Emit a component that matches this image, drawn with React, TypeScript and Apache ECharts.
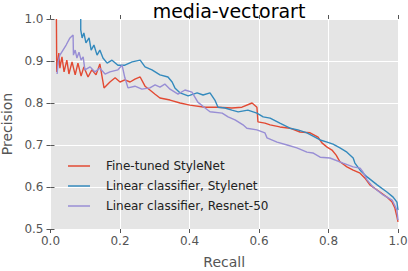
import React, { useEffect, useRef } from "react";
import * as echarts from "echarts";

const title = "media-vectorart";
const seriesNames = ["Fine-tuned StyleNet", "Linear classifier, Stylenet", "Linear classifier, Resnet-50"];
const seriesColors = ["#E24A33", "#348ABD", "#988ED5"];
const xTicks = [0, 0.2, 0.4, 0.6, 0.8, 1.0];
const yTicks = [0.5, 0.6, 0.7, 0.8, 0.9, 1.0];

const redRecall = [0.017, 0.018, 0.024, 0.027, 0.033, 0.039, 0.047, 0.053, 0.062, 0.071, 0.079, 0.088, 0.096, 0.108, 0.119, 0.131, 0.142, 0.154, 0.171, 0.186, 0.2, 0.214, 0.229, 0.243, 0.258, 0.272, 0.286, 0.301, 0.315, 0.344, 0.373, 0.401, 0.445, 0.482, 0.522, 0.551, 0.58, 0.594, 0.597, 0.617, 0.632, 0.66, 0.689, 0.718, 0.747, 0.77, 0.781, 0.796, 0.81, 0.822, 0.833, 0.853, 0.871, 0.891, 0.905, 0.919, 0.948, 0.968, 0.983, 0.991, 0.997, 1.0];
const redPrecision = [1.0, 0.874, 0.919, 0.883, 0.91, 0.874, 0.902, 0.869, 0.898, 0.867, 0.895, 0.864, 0.886, 0.862, 0.879, 0.867, 0.893, 0.836, 0.85, 0.86, 0.85, 0.855, 0.85, 0.857, 0.862, 0.84, 0.831, 0.821, 0.812, 0.807, 0.8, 0.795, 0.79, 0.79, 0.788, 0.79, 0.8, 0.79, 0.755, 0.752, 0.748, 0.743, 0.74, 0.731, 0.729, 0.719, 0.705, 0.695, 0.688, 0.676, 0.66, 0.648, 0.64, 0.633, 0.621, 0.605, 0.588, 0.576, 0.564, 0.55, 0.529, 0.517];

const blueRecall = [0.087, 0.087, 0.091, 0.096, 0.102, 0.111, 0.117, 0.125, 0.134, 0.142, 0.151, 0.163, 0.177, 0.194, 0.214, 0.235, 0.258, 0.272, 0.292, 0.315, 0.338, 0.35, 0.358, 0.373, 0.396, 0.422, 0.439, 0.459, 0.473, 0.482, 0.502, 0.522, 0.54, 0.568, 0.594, 0.612, 0.632, 0.66, 0.689, 0.712, 0.738, 0.761, 0.776, 0.796, 0.813, 0.833, 0.853, 0.871, 0.876, 0.891, 0.911, 0.94, 0.968, 0.986, 0.997, 1.0];
const bluePrecision = [1.0, 0.974, 0.955, 0.967, 0.943, 0.955, 0.926, 0.938, 0.914, 0.926, 0.907, 0.895, 0.902, 0.89, 0.89, 0.898, 0.902, 0.886, 0.879, 0.867, 0.862, 0.85, 0.836, 0.824, 0.817, 0.824, 0.819, 0.824, 0.807, 0.79, 0.788, 0.783, 0.779, 0.783, 0.776, 0.767, 0.764, 0.752, 0.74, 0.736, 0.729, 0.719, 0.712, 0.707, 0.702, 0.693, 0.683, 0.669, 0.657, 0.64, 0.624, 0.605, 0.588, 0.576, 0.564, 0.545];

const purpleRecall = [0.019, 0.022, 0.027, 0.036, 0.045, 0.056, 0.065, 0.066, 0.071, 0.076, 0.082, 0.088, 0.094, 0.099, 0.114, 0.128, 0.142, 0.157, 0.171, 0.194, 0.206, 0.214, 0.223, 0.243, 0.263, 0.286, 0.301, 0.315, 0.329, 0.344, 0.367, 0.387, 0.407, 0.424, 0.445, 0.459, 0.494, 0.511, 0.531, 0.554, 0.565, 0.594, 0.617, 0.623, 0.652, 0.681, 0.709, 0.738, 0.755, 0.776, 0.804, 0.842, 0.871, 0.891, 0.899, 0.911, 0.928, 0.957, 0.983, 0.997, 1.0];
const purplePrecision = [0.869, 0.898, 0.914, 0.926, 0.938, 0.955, 0.962, 0.914, 0.926, 0.907, 0.921, 0.902, 0.91, 0.879, 0.886, 0.874, 0.883, 0.869, 0.874, 0.879, 0.89, 0.86, 0.836, 0.84, 0.833, 0.836, 0.843, 0.838, 0.845, 0.833, 0.821, 0.831, 0.826, 0.802, 0.788, 0.779, 0.776, 0.767, 0.76, 0.748, 0.74, 0.736, 0.729, 0.717, 0.707, 0.7, 0.693, 0.683, 0.681, 0.671, 0.669, 0.657, 0.648, 0.645, 0.636, 0.617, 0.6, 0.581, 0.569, 0.545, 0.521];

const recalls = [redRecall, blueRecall, purpleRecall];
const precisions = [redPrecision, bluePrecision, purplePrecision];

const FONT = "DejaVu Sans";

export default function App() {
  const ref = useRef<HTMLDivElement>(null);
  useEffect(() => {
    if (!ref.current) return;
    const chart = echarts.init(ref.current, undefined, { renderer: "svg" });
    const tickStyle = { show: true, length: 4, inside: false, lineStyle: { color: "#555", width: 1 } };
    const xBase = {
      type: "value" as const,
      min: 0,
      max: 1,
      interval: 0.2,
      axisLine: { show: false },
      axisTick: tickStyle,
      splitLine: { show: false },
    };
    const yBase = {
      type: "value" as const,
      min: 0.5,
      max: 1.0,
      interval: 0.1,
      axisLine: { show: false },
      axisTick: tickStyle,
      splitLine: { show: false },
    };
    chart.setOption({
      animation: false,
      backgroundColor: "#ffffff",
      textStyle: { fontFamily: FONT },
      title: {
        text: title,
        left: 224,
        textAlign: "center",
        top: -4,
        textStyle: { fontFamily: FONT, fontSize: 19, fontWeight: "normal", color: "#000" },
      },
      grid: {
        left: 50.5,
        right: 10,
        top: 19,
        bottom: 42,
        show: true,
        backgroundColor: "#E5E5E5",
        borderWidth: 0,
        containLabel: false,
        outerBoundsMode: "none",
      },
      legend: {
        orient: "vertical",
        left: 63,
        top: 155,
        itemWidth: 22,
        itemHeight: 1.5,
        itemGap: 8,
        icon: "rect",
        data: seriesNames,
        textStyle: { fontFamily: FONT, fontSize: 12, color: "#222", padding: [0, 0, 0, 11] },
      },
      xAxis: [
        {
          ...xBase,
          position: "bottom",
          name: "Recall",
          nameLocation: "middle",
          nameGap: 26,
          nameTextStyle: { fontFamily: FONT, fontSize: 14, color: "#555" },
          axisLabel: {
            fontFamily: FONT,
            fontSize: 12,
            color: "#555",
            margin: 6,
            formatter: (v: number) => (xTicks.some((t) => Math.abs(t - v) < 1e-6) ? v.toFixed(1) : ""),
          },
          splitLine: { show: true, lineStyle: { color: "#ffffff", width: 1 } },
        },
        { ...xBase, position: "top", axisLabel: { show: false } },
      ],
      yAxis: [
        {
          ...yBase,
          position: "left",
          name: "Precision",
          nameLocation: "middle",
          nameGap: 34,
          nameTextStyle: { fontFamily: FONT, fontSize: 14, color: "#555" },
          axisLabel: {
            fontFamily: FONT,
            fontSize: 12,
            color: "#555",
            margin: 7,
            formatter: (v: number) => (yTicks.some((t) => Math.abs(t - v) < 1e-6) ? v.toFixed(1) : ""),
          },
          splitLine: { show: true, lineStyle: { color: "#ffffff", width: 1 } },
        },
        { ...yBase, position: "right", axisLabel: { show: false } },
      ],
      series: seriesNames.map((name, i) => ({
        name,
        type: "line",
        xAxisIndex: 0,
        yAxisIndex: 0,
        showSymbol: false,
        symbol: "none",
        clip: true,
        color: seriesColors[i],
        lineStyle: { color: seriesColors[i], width: 1.4 },
        data: recalls[i].map((r, j) => [r, precisions[i][j]]),
      })),
    });
    return () => chart.dispose();
  }, []);
  return (
    <div
      ref={ref}
      style={{ position: "absolute", left: 0, top: 0, width: 408, height: 271 }}
    />
  );
}
